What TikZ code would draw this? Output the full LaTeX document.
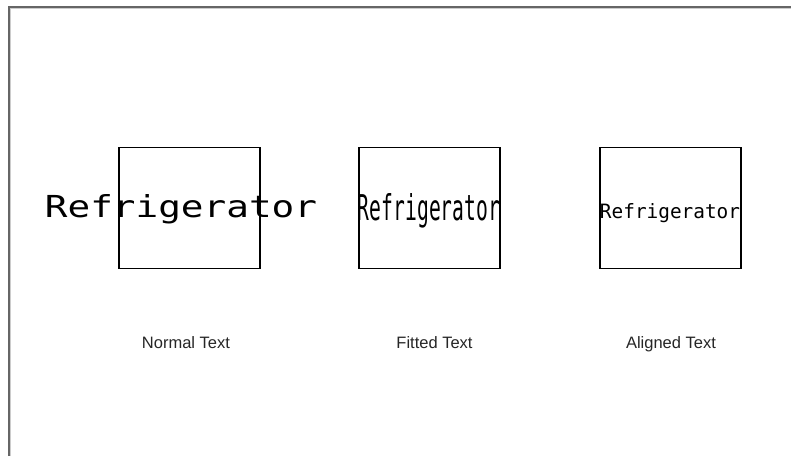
\documentclass[tikz,border=0pt]{standalone}
\usepackage{fontspec}
\setmainfont{Liberation Sans}
\newfontfamily\cadfont{DejaVu Sans Mono}
\usepackage{graphicx}

\begin{document}
\begin{tikzpicture}[x=1pt,y=-1pt,
  framebox/.style={draw,line width=1.6pt,inner sep=0pt,outer sep=0pt,
    minimum width=141pt,minimum height=121pt},
  cadtext/.style={anchor=base,inner sep=0pt,font=\cadfont},
  caption/.style={anchor=base,inner sep=0pt,font=\fontsize{16.5}{19}\selectfont,text=black!85}]
\useasboundingbox (0,0) rectangle (791,456);
\fill[white] (0,0) rectangle (791,456);
\draw[line width=2pt,black!60] (9,456) -- (9,7) -- (791,7);
\draw[line width=1pt,black!20] (10.5,456) -- (10.5,8.5) -- (791,8.5);

\node[framebox] (normalbox) at (189.5,208) {};
\node[framebox] (fittedbox) at (429.5,208) {};
\node[framebox] (alignedbox) at (670.5,208) {};

\node[cadtext] (normaltext) at (181,217) {\resizebox{272pt}{23pt}{Refrigerator}};
\node[cadtext] (fittedtext) at (429,220) {\resizebox{142pt}{27pt}{Refrigerator}};
\node[cadtext] (alignedtext) at (670,218) {\resizebox{140pt}{15pt}{Refrigerator}};

\node[caption] (normalcap) at (186,348) {Normal Text};
\node[caption] (fittedcap) at (434.5,348) {Fitted Text};
\node[caption] (alignedcap) at (671,348) {Aligned Text};
\end{tikzpicture}
\end{document}
